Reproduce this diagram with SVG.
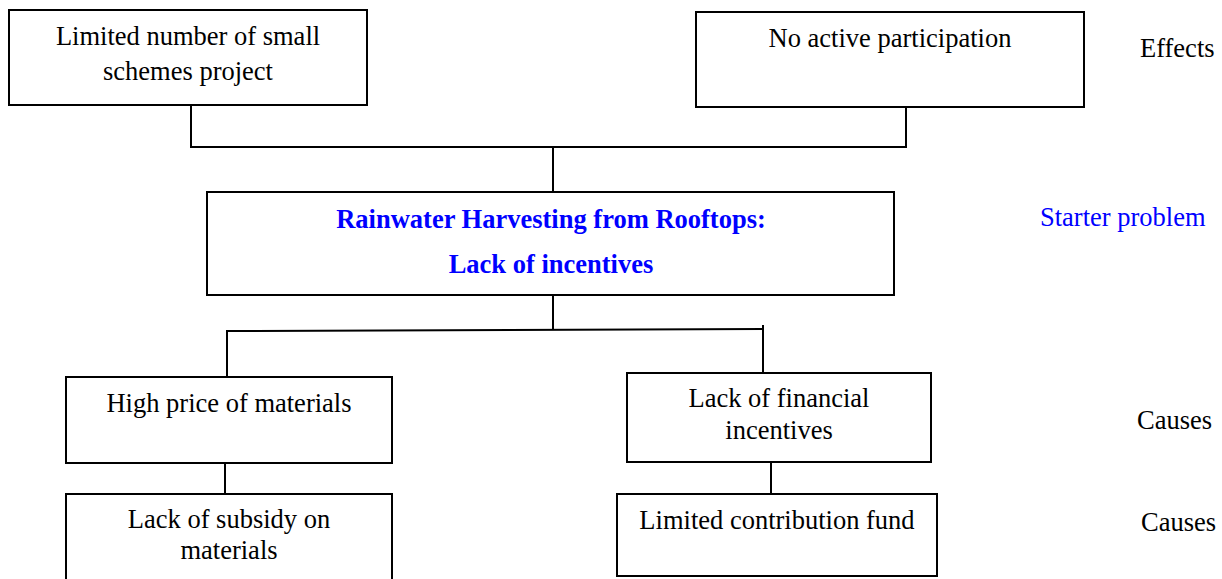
<svg xmlns="http://www.w3.org/2000/svg" width="1222" height="579" viewBox="0 0 1222 579">
<style>
.box{fill:#fff;stroke:#000;stroke-width:2}
.t{font-family:"Liberation Serif","Times New Roman",serif;font-size:26.5px;fill:#000;text-anchor:middle}
.lab{font-family:"Liberation Serif","Times New Roman",serif;font-size:26.5px;fill:#000}
.b{font-family:"Liberation Serif","Times New Roman",serif;font-size:26.5px;font-weight:bold;fill:#0000ff;text-anchor:middle}
.bl{font-family:"Liberation Serif","Times New Roman",serif;font-size:26.5px;fill:#0000ff}
.c{fill:none;stroke:#000;stroke-width:2}
</style>
<rect width="1222" height="579" fill="#fff"/>
<g id="connectors">
<polyline class="c" points="191,105 191,147 906,147 906,107"/>
<line class="c" x1="553" y1="147" x2="553" y2="192"/>
<line class="c" x1="553" y1="295" x2="553" y2="330"/>
<polyline class="c" points="227,377 227,331 763,329"/>
<line class="c" x1="763" y1="325" x2="763" y2="373"/>
<line class="c" x1="225" y1="463" x2="225" y2="494"/>
<line class="c" x1="771" y1="462" x2="771" y2="494"/>
</g>
<g id="n1"><rect class="box" x="9" y="10" width="358" height="95"/>
<text class="t" x="188" y="45">Limited number of small</text>
<text class="t" x="188" y="80">schemes project</text></g>
<g id="n2"><rect class="box" x="696" y="12" width="388" height="95"/>
<text class="t" x="890" y="47">No active participation</text></g>
<g id="effects"><text class="lab" x="1140" y="57">Effects</text></g>
<g id="n3"><rect class="box" x="207" y="192" width="687" height="103"/>
<text class="b" x="551" y="228">Rainwater Harvesting from Rooftops:</text>
<text class="b" x="551" y="273">Lack of incentives</text></g>
<g id="starter"><text class="bl" x="1040" y="226">Starter problem</text></g>
<g id="n4"><rect class="box" x="66" y="377" width="326" height="86"/>
<text class="t" x="229" y="412">High price of materials</text></g>
<g id="n5"><rect class="box" x="627" y="373" width="304" height="89"/>
<text class="t" x="779" y="407">Lack of financial</text>
<text class="t" x="779" y="439">incentives</text></g>
<g id="causes1"><text class="lab" x="1137" y="429">Causes</text></g>
<g id="n6"><rect class="box" x="66" y="494" width="326" height="95"/>
<text class="t" x="229" y="528">Lack of subsidy on</text>
<text class="t" x="229" y="559">materials</text></g>
<g id="n7"><rect class="box" x="617" y="494" width="320" height="82"/>
<text class="t" x="777" y="529">Limited contribution fund</text></g>
<g id="causes2"><text class="lab" x="1141" y="531">Causes</text></g>
</svg>
